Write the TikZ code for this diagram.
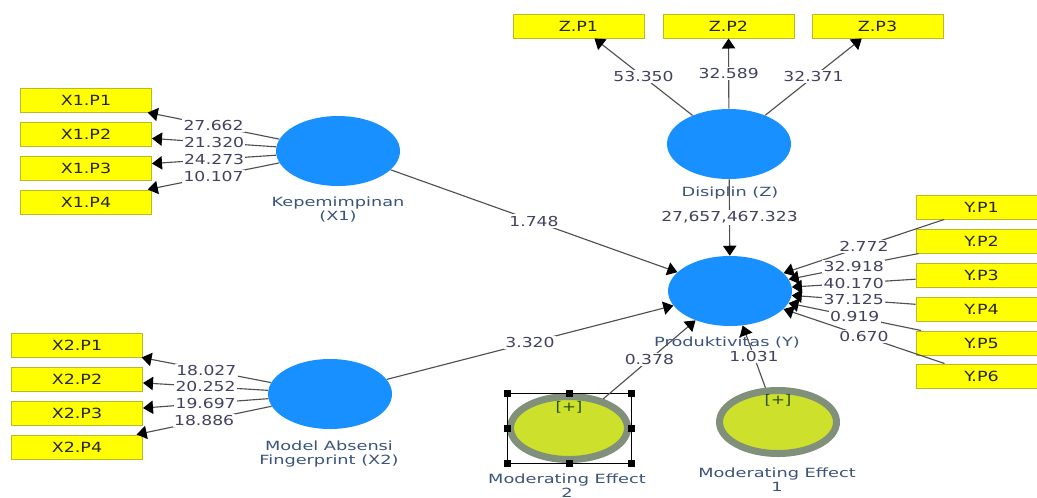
\documentclass[tikz,border=0pt]{standalone}
\usepackage{fontspec}
\setmainfont{DejaVu Sans}[FakeStretch=1.25]
\newfontfamily\namefont{DejaVu Sans}[FakeStretch=1.4]
\usetikzlibrary{shapes.geometric,arrows.meta}
\definecolor{boxfill}{RGB}{255,255,0}
\definecolor{boxline}{RGB}{184,184,40}
\definecolor{lvblue}{RGB}{24,144,255}
\definecolor{ringgray}{RGB}{128,144,122}
\definecolor{modfill}{RGB}{204,224,44}
\definecolor{linegray}{RGB}{80,80,80}
\definecolor{numcol}{RGB}{66,66,96}
\definecolor{namecol}{RGB}{58,84,124}
\definecolor{plusgreen}{RGB}{40,80,20}
\begin{document}
\begin{tikzpicture}[x=0.75pt,y=-0.75pt,
  ind/.style={draw=boxline, line width=0.75pt, fill=boxfill, minimum width=131*0.75pt,
    minimum height=24*0.75pt, inner sep=0pt, font=\fontsize{10.5}{12}\selectfont, text=black!85},
  lv/.style={ellipse, fill=lvblue, draw=none, inner sep=0pt, minimum width=124*0.75pt, minimum height=70*0.75pt},
  mod/.style={ellipse, fill=modfill, draw=ringgray, line width=7*0.75pt, inner sep=0pt,
    minimum width=117*0.75pt, minimum height=63*0.75pt},
  conn/.style={draw=linegray, line width=0.85pt, -{Triangle[length=7.5pt,width=10pt,color=black]}},
  num/.style={fill=white, inner sep=1pt, font=\fontsize{10.3}{12}\selectfont, text=numcol},
  lvname/.style={font=\namefont\fontsize{9.5}{10.5}\selectfont, text=namecol, align=center, inner sep=0pt, anchor=north},
  plus/.style={font=\fontsize{10}{11}\selectfont, text=plusgreen, inner sep=0pt},
  handle/.style={fill=black}
]
\useasboundingbox (0,0) rectangle (1037,497);
\clip (0,0) rectangle (1037,497);
\fill[white] (0,0) rectangle (1037,497);

% indicator boxes
\node[ind] (X1P1) at (86,100) {X1.P1};
\node[ind] (X1P2) at (86,134) {X1.P2};
\node[ind] (X1P3) at (86,168) {X1.P3};
\node[ind] (X1P4) at (86,202) {X1.P4};
\node[ind] (X2P1) at (77,345) {X2.P1};
\node[ind] (X2P2) at (77,379) {X2.P2};
\node[ind] (X2P3) at (77,413) {X2.P3};
\node[ind] (X2P4) at (77,447) {X2.P4};
\node[ind] (ZP1) at (578.5,26) {Z.P1};
\node[ind] (ZP2) at (728.5,26) {Z.P2};
\node[ind] (ZP3) at (877.5,26) {Z.P3};
\node[ind] (YP1) at (981.5,207) {Y.P1};
\node[ind] (YP2) at (981.5,241) {Y.P2};
\node[ind] (YP3) at (981.5,275) {Y.P3};
\node[ind] (YP4) at (981.5,309) {Y.P4};
\node[ind] (YP5) at (981.5,343) {Y.P5};
\node[ind] (YP6) at (981.5,376) {Y.P6};

% latent variables
\node[lv] (X1) at (338,151) {};
\node[lv] (X2) at (330,394) {};
\node[lv] (Z) at (729,144) {};
\node[lv] (Y) at (730,291) {};
\node[mod] (ME2) at (569,428) {};
\node[mod] (ME1) at (778,422) {};
\node[plus] (ME2p) at (569,407) {[+]};
\node[plus] (ME1p) at (778,400) {[+]};

% names
\node[lvname] (X1n) at (338,197) {Kepemimpinan\\(X1)};
\node[lvname] (X2n) at (329,441) {Model Absensi\\Fingerprint (X2)};
\node[lvname] (Zn) at (730,187) {Disiplin (Z)};
\node[lvname] (Yn) at (727,337) {Produktivitas (Y)};
\node[lvname] (ME2n) at (567,474) {Moderating Effect\\2};
\node[lvname] (ME1n) at (777,468) {Moderating Effect\\1};

% selection frame around ME2
\draw[black, line width=0.75pt] (507,393) rectangle (631,463);
\foreach \hx/\hy in {507/393,569/393,631/393,507/428,631/428,507/463,569/463,631/463}
  \fill[handle] (\hx-3.5,\hy-3.5) rectangle (\hx+3.5,\hy+3.5);

% outer loadings / weights
\foreach \i/\v in {1/27.662,2/21.320,3/24.273,4/10.107}
  \draw[conn] (X1) -- node[num]{\v} (X1P\i);
\foreach \i/\v in {1/18.027,2/20.252,3/19.697,4/18.886}
  \draw[conn] (X2) -- node[num]{\v} (X2P\i);
\foreach \i/\v in {1/53.350,2/32.589,3/32.371}
  \draw[conn] (Z) -- node[num]{\v} (ZP\i);
\foreach \i/\v in {1/2.772,2/32.918,3/40.170,4/37.125,5/0.919,6/0.670}
  \draw[conn] (YP\i) -- node[num]{\v} (Y);

% structural paths
\draw[conn] (X1) -- node[num]{1.748} (Y);
\draw[conn] (X2) -- node[num]{3.320} (Y);
\draw[conn] (Z) -- node[num]{27,657,467.323} (Y);
\draw[conn] (ME2) -- node[num]{0.378} (Y);
\draw[conn] (ME1) -- node[num]{1.031} (Y);
\end{tikzpicture}
\end{document}
